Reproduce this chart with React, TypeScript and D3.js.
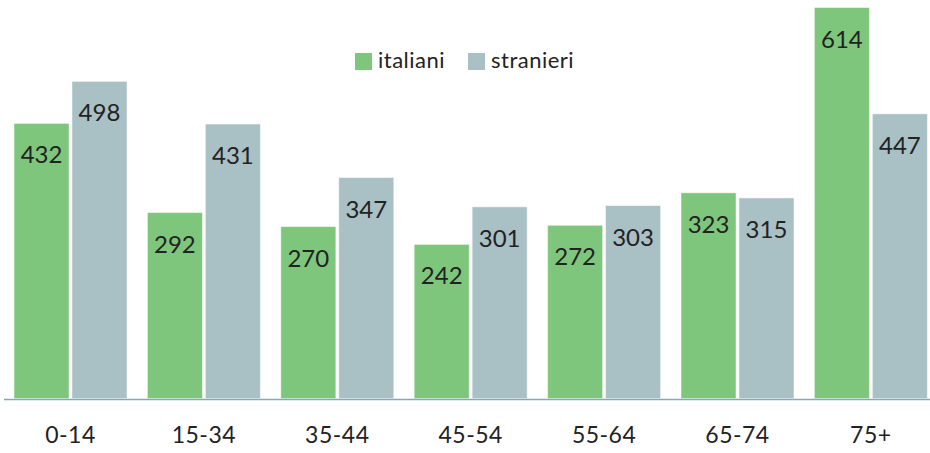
import React from "react";
import * as d3 from "d3";

const categories = ["0-14", "15-34", "35-44", "45-54", "55-64", "65-74", "75+"];
const italiani = [432, 292, 270, 242, 272, 323, 614];
const stranieri = [498, 431, 347, 301, 303, 315, 447];
const seriesNames = ["italiani", "stranieri"];
const seriesColors = ["#7dc67c", "#a9c0c5"];

const W = 930;
const H = 453;
const FONT = "Lato, 'Noto Sans', sans-serif";

export default function App() {
  const baseline = 398.5;
  const x0 = d3
    .scaleBand<string>()
    .domain(categories)
    .range([3.8, 3.8 + 7 * 133.4])
    .paddingInner(0.153)
    .paddingOuter(0.0765);
  const x1 = d3
    .scaleBand<string>()
    .domain(seriesNames)
    .range([0, x0.bandwidth()])
    .paddingInner(0.05);
  const y = d3.scaleLinear().domain([0, 614]).range([baseline, 7.5]);

  const data = [italiani, stranieri];

  return (
    <svg
      width={W}
      height={H}
      style={{ display: "block", position: "absolute", left: 0, top: 0 }}
      fontFamily={FONT}
    >
      <rect x={0} y={0} width={W} height={H} fill="#fff" />
      {categories.map((c, i) => (
        <g key={c} transform={`translate(${x0(c)},0)`}>
          {seriesNames.map((s, k) => {
            const v = data[k][i];
            const bx = x1(s)!;
            const bw = x1.bandwidth();
            return (
              <g key={s}>
                <rect
                  x={bx}
                  y={y(v)}
                  width={bw}
                  height={baseline - y(v)}
                  fill={seriesColors[k]}
                  stroke="rgba(255,255,255,0.5)"
                  strokeWidth={1}
                />
                <text
                  x={bx + bw / 2}
                  y={y(v) + 40}
                  textAnchor="middle"
                  fontSize={24}
                  fill="#222"
                >
                  {v}
                </text>
              </g>
            );
          })}
          <text
            x={x0.bandwidth() / 2}
            y={443}
            textAnchor="middle"
            fontSize={23}
            letterSpacing={0.5}
            fill="#222"
          >
            {c}
          </text>
        </g>
      ))}
      <line x1={4} x2={W} y1={399.5} y2={399.5} stroke="#8aa7b5" strokeWidth={1.5} />
      {/* legend */}
      <g>
        <rect x={355} y={53} width={17} height={17} fill={seriesColors[0]} />
        <text x={378} y={67.5} fontSize={22} letterSpacing={0.5} fill="#222">
          {seriesNames[0]}
        </text>
        <rect x={468} y={53} width={17} height={17} fill={seriesColors[1]} />
        <text x={491} y={67.5} fontSize={22} letterSpacing={0.5} fill="#222">
          {seriesNames[1]}
        </text>
      </g>
    </svg>
  );
}
